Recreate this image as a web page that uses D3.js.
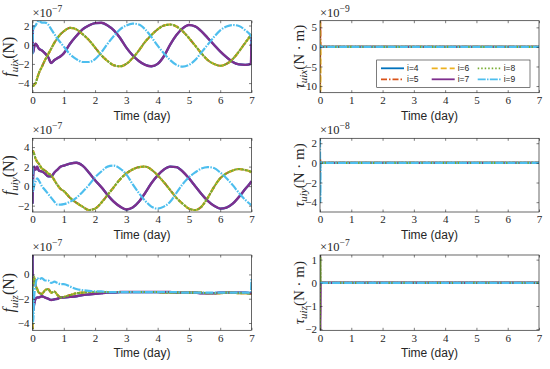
<!DOCTYPE html>
<html>
<head>
<meta charset="utf-8">
<script src="https://cdn.jsdelivr.net/npm/d3@7"></script>
<style>
body { margin: 0; background: #fff; }
</style>
</head>
<body>
<div id="chart"></div>
<script>
// time samples (day) used for the force panels
const tForce = [0, 0.02, 0.05, 0.1, 0.15, 0.2, 0.3, 0.4, 0.5, 0.6, 0.7, 0.8, 0.9, 1.0,
  1.2, 1.4, 1.6, 1.8, 2.0, 2.2, 2.4, 2.6, 2.8, 3.0, 3.2, 3.4, 3.6, 3.8, 4.0, 4.2, 4.4, 4.6, 4.8, 5.0,
  5.2, 5.4, 5.6, 5.8, 6.0, 6.2, 6.4, 6.6, 6.8, 6.98, 7.0]
// time samples (day) for the torque panels
const tTorque = [0, 0.01, 0.02, 0.05, 1, 2, 3, 4, 5, 6, 7]

const timeTicks = [0, 1, 2, 3, 4, 5, 6, 7]
const seriesIds = [4, 5, 6, 7, 8, 9]
const legendLabels = ["i=4", "i=5", "i=6", "i=7", "i=8", "i=9"]

// f_uix  (x 1e-7 N)
const fuixPurple = [2.0, -0.8, -0.3, 0.1, -0.1, -0.4, -0.6, -0.9, -1.3, -1.9, -1.6, -1.4, -1.2, -0.9,
  0.1, 0.9, 1.6, 2.0, 2.25, 2.28, 2.0, 1.5, 0.7, -0.3, -1.1, -1.7, -2.1, -2.25, -2.0, -1.2, 0.0, 1.0, 1.7, 2.05,
  1.9, 1.4, 0.7, 0.0, -0.7, -1.3, -1.8, -2.05, -2.1, -2.0, 0.8]
const fuixGreen = [-4.2, -4.3, -4.2, -4.0, -3.5, -3.0, -2.3, -1.6, -1.0, -0.4, 0.2, 0.7, 1.1, 1.4,
  1.75, 1.6, 1.1, 0.5, -0.3, -1.1, -1.7, -2.15, -2.25, -2.0, -1.4, -0.6, 0.3, 1.0, 1.6, 2.0, 2.1, 1.9, 1.4, 0.7,
  -0.1, -0.9, -1.6, -2.0, -2.2, -2.0, -1.5, -0.7, 0.2, 1.0, 1.1]
const fuixCyan = [-1.0, 1.5, 1.8, 2.0, 2.3, 2.5, 2.3, 2.3, 2.1, 1.6, 1.1, 0.6, 0.2, -0.2,
  -1.0, -1.5, -1.8, -1.8, -1.5, -0.8, 0.1, 0.9, 1.6, 2.0, 2.2, 2.1, 1.6, 0.8, -0.1, -0.9, -1.6, -2.1, -2.28, -2.1,
  -1.6, -0.8, 0.0, 0.8, 1.5, 1.9, 2.05, 1.95, 1.5, 0.9, 0.1]

// f_uiy  (x 1e-7 N)
const fuiyPurple = [-1.8, 1.0, 2.0, 1.7, 2.0, 1.6, 1.5, 1.3, 1.0, 1.0, 1.4, 1.7, 2.0, 2.1,
  2.3, 2.4, 2.1, 1.4, 0.6, -0.1, -0.9, -1.6, -2.1, -2.4, -2.2, -1.6, -0.7, 0.3, 1.1, 1.7, 2.0, 1.95, 1.5, 0.8,
  0.0, -0.8, -1.5, -2.0, -2.3, -2.2, -1.8, -1.1, -0.3, 0.4, 0.5]
const fuiyGreen = [3.4, 3.6, 3.3, 2.8, 2.5, 2.3, 1.8, 1.6, 1.3, 1.1, 0.6, 0.1, -0.3, -0.5,
  -1.2, -1.7, -2.1, -2.45, -2.3, -1.7, -0.9, -0.1, 0.7, 1.3, 1.7, 1.95, 2.0, 1.7, 1.1, 0.4, -0.4, -1.2, -1.8, -2.3,
  -2.45, -2.1, -1.2, -0.1, 0.8, 1.3, 1.6, 1.75, 1.65, 1.45, 1.4]
const fuiyCyan = [2.0, -0.5, 0.0, 0.5, 0.8, 0.6, 0.0, -0.4, -0.8, -1.2, -1.6, -1.9, -1.9, -1.85,
  -1.6, -1.2, -0.6, 0.1, 0.9, 1.5, 2.0, 2.1, 1.8, 1.2, 0.2, -0.7, -1.5, -2.1, -2.3, -2.1, -1.6, -0.7, 0.2, 0.9,
  1.4, 1.8, 1.95, 1.85, 1.4, 0.8, 0.1, -0.7, -1.4, -1.9, -1.95]

// f_uiz  (x 1e-7 N)
const fuizPurple = [1.6, -3.0, -2.5, -2.0, -1.9, -1.9, -1.8, -1.9, -2.0, -2.1, -2.05, -2.0, -1.9, -1.9,
  -1.85, -1.8, -1.7, -1.65, -1.6, -1.55, -1.5, -1.5, -1.45, -1.45, -1.45, -1.45, -1.45, -1.45, -1.45, -1.45, -1.45, -1.5, -1.5, -1.5,
  -1.5, -1.55, -1.55, -1.55, -1.5, -1.5, -1.5, -1.5, -1.5, -1.55, -1.55]
const fuizGreen = [-4.5, -0.5, -0.2, -0.9, -1.2, -1.5, -1.6, -1.3, -1.2, -1.5, -1.4, -1.7, -1.9, -1.85,
  -1.7, -1.55, -1.5, -1.45, -1.45, -1.45, -1.45, -1.45, -1.45, -1.45, -1.45, -1.45, -1.45, -1.45, -1.45, -1.5, -1.5, -1.5, -1.5, -1.5,
  -1.5, -1.5, -1.55, -1.55, -1.55, -1.5, -1.5, -1.55, -1.55, -1.6, -1.6]
const fuizCyan = [-1.0, -4.0, -2.0, -0.8, -0.3, -0.4, -0.3, -0.5, -0.5, -0.7, -0.6, -0.7, -0.8, -0.8,
  -1.0, -1.2, -1.3, -1.35, -1.4, -1.4, -1.45, -1.45, -1.45, -1.45, -1.45, -1.45, -1.45, -1.45, -1.45, -1.45, -1.45, -1.45, -1.5, -1.5,
  -1.5, -1.5, -1.5, -1.5, -1.5, -1.5, -1.5, -1.5, -1.5, -1.5, -0.3]

// torques: spikes at t = 0, then flat
const tuixValues = {
  4: [0, 0, 0, 0, 0, 0, 0, 0, 0, 0, 0],
  5: [-11.6, 6.6, -0.5, 0, 0, 0, 0, 0, 0, 0, 0],
  6: [6.6, -11.6, 0.3, 0, 0, 0, 0, 0, 0, 0, 0],
  7: [0, 0.2, 0, 0, 0, 0, 0, 0, 0, 0, 0],
  8: [0, 0, 0, 0, 0, 0, 0, 0, 0, 0, 0],
  9: [-0.6, 0.4, 0, 0, 0, 0, 0, 0, 0, 0, 0]
}
const tuiyValues = {
  4: [0, 0, 0, 0, 0, 0, 0, 0, 0, 0, 0],
  5: [-1.0, 0.3, 0, 0, 0, 0, 0, 0, 0, 0, 0],
  6: [0, 0, 0, 0, 0, 0, 0, 0, 0, 0, 0],
  7: [0, 0, 0, 0, 0, 0, 0, 0, 0, 0, 0],
  8: [0, 0, 0, 0, 0, 0, 0, 0, 0, 0, 0],
  9: [2.4, -4.0, 0.1, 0, 0, 0, 0, 0, 0, 0, 0]
}
const tuizValues = {
  4: [0, 0, 0, 0, 0, 0, 0, 0, 0, 0, 0],
  5: [0, 0, 0, 0, 0, 0, 0, 0, 0, 0, 0],
  6: [0, 0, 0, 0, 0, 0, 0, 0, 0, 0, 0],
  7: [1.2, -2.05, 0, 0, 0, 0, 0, 0, 0, 0, 0],
  8: [-2.0, 1.15, 0, 0, 0, 0, 0, 0, 0, 0, 0],
  9: [0, 0, 0, 0, 0, 0, 0, 0, 0, 0, 0]
}

const seriesStyle = {
  4: {color: "#0072BD", dash: null, width: 2.2},
  5: {color: "#D95319", dash: "6,2,1.5,2", width: 2.1},
  6: {color: "#EDB120", dash: "6,3", width: 2.1},
  7: {color: "#7E2F8E", dash: null, width: 2.4},
  8: {color: "#77AC30", dash: "2.8,0.9", width: 2.1},
  9: {color: "#4DBEEE", dash: "8,1.3,1.5,1.3", width: 2.2}
}

const panels = [
  {left: 32.5, top: 20.7, width: 219, height: 72, yDomain: [-5, 2.5], yTicks: [-4, -2, 0, 2], exp: "−7",
   sym: "f", sub: "uix", unit: "(N)", times: tForce,
   values: {4: fuixPurple, 5: fuixGreen, 6: fuixGreen, 7: fuixPurple, 8: fuixGreen, 9: fuixCyan}},
  {left: 320, top: 20.7, width: 219, height: 72, yDomain: [-11.7, 6.7], yTicks: [-10, -5, 0, 5], exp: "−9",
   sym: "τ", sub: "uix", unit: "(N · m)", times: tTorque, values: tuixValues, legend: true},
  {left: 32.5, top: 138.3, width: 219, height: 73.7, yDomain: [-2.65, 4.9], yTicks: [-2, 0, 2, 4], exp: "−7",
   sym: "f", sub: "uiy", unit: "(N)", times: tForce,
   values: {4: fuiyPurple, 5: fuiyGreen, 6: fuiyGreen, 7: fuiyPurple, 8: fuiyGreen, 9: fuiyCyan}},
  {left: 320, top: 138.3, width: 219, height: 73.7, yDomain: [-5, 2.5], yTicks: [-4, -2, 0, 2], exp: "−8",
   sym: "τ", sub: "uiy", unit: "(N · m)", times: tTorque, values: tuiyValues},
  {left: 32.5, top: 255, width: 219, height: 75.3, yDomain: [-4.6, 1.6], yTicks: [-4, -2, 0], exp: "−7",
   sym: "f", sub: "uiz", unit: "(N)", times: tForce,
   values: {4: fuizPurple, 5: fuizGreen, 6: fuizGreen, 7: fuizPurple, 8: fuizGreen, 9: fuizCyan}},
  {left: 320, top: 255, width: 219, height: 75.3, yDomain: [-2.05, 1.2], yTicks: [-2, -1, 0, 1], exp: "−7",
   sym: "τ", sub: "uiz", unit: "(N · m)", times: tTorque, values: tuizValues}
]

const svg = d3.select("#chart").append("svg")
    .attr("width", 550)
    .attr("height", 369)
    .style("font-family", "'Liberation Serif', 'DejaVu Serif', serif");

const axisColor = "#262626";
const fmt = d3.format("d");

panels.forEach((p, idx) => {
    const x = d3.scaleLinear().domain([0, 7]).range([p.left, p.left + p.width]);
    const y = d3.scaleLinear().domain(p.yDomain).range([p.top + p.height, p.top]);
    const g = svg.append("g");

    g.append("clipPath").attr("id", "clip" + idx)
        .append("rect")
        .attr("x", p.left).attr("y", p.top)
        .attr("width", p.width).attr("height", p.height);

    const line = d3.line()
        .x(d => x(d[0]))
        .y(d => y(d[1]))
        .curve(d3.curveMonotoneX);

    const plot = g.append("g").attr("clip-path", `url(#clip${idx})`);
    for (const i of seriesIds) {
        const st = seriesStyle[i];
        plot.append("path")
            .datum(p.times.map((t, k) => [t, p.values[i][k]]))
            .attr("d", line)
            .attr("fill", "none")
            .attr("stroke", st.color)
            .attr("stroke-width", st.width)
            .attr("stroke-dasharray", st.dash);
    }

    // axes, ticks pointing inward like matlab
    const styleAxis = sel => {
        sel.attr("font-family", null).attr("font-size", 11);
        sel.select(".domain").remove();
        sel.selectAll(".tick line").attr("stroke", axisColor).attr("stroke-width", 0.6);
        sel.selectAll(".tick text").attr("fill", axisColor);
    };
    g.append("g").attr("transform", `translate(0,${p.top + p.height})`)
        .call(d3.axisBottom(x).tickValues(timeTicks).tickFormat(fmt).tickSize(-2.5).tickPadding(3.5))
        .call(styleAxis);
    g.append("g").attr("transform", `translate(0,${p.top})`)
        .call(d3.axisTop(x).tickValues(timeTicks).tickFormat("").tickSize(-2.5))
        .call(styleAxis);
    g.append("g").attr("transform", `translate(${p.left},0)`)
        .call(d3.axisLeft(y).tickValues(p.yTicks).tickFormat(fmt).tickSize(-2.5).tickPadding(3))
        .call(styleAxis);
    g.append("g").attr("transform", `translate(${p.left + p.width},0)`)
        .call(d3.axisRight(y).tickValues(p.yTicks).tickFormat("").tickSize(-2.5))
        .call(styleAxis);

    g.append("rect")
        .attr("x", p.left).attr("y", p.top)
        .attr("width", p.width).attr("height", p.height)
        .attr("fill", "none")
        .attr("stroke", axisColor)
        .attr("stroke-width", 0.7);

    // exponent above the y axis
    const ex = g.append("text")
        .attr("x", p.left)
        .attr("y", p.top - 4)
        .attr("font-size", 12.5)
        .attr("fill", axisColor)
        .text("×10");
    ex.append("tspan").attr("dy", -5).attr("font-size", 9.5).text(p.exp);

    // x label
    g.append("text")
        .attr("x", p.left + p.width / 2)
        .attr("y", p.top + p.height + 27)
        .attr("text-anchor", "middle")
        .attr("font-family", "'Liberation Sans', Arial, sans-serif")
        .attr("font-size", 12)
        .attr("fill", axisColor)
        .text("Time (day)");

    // y label
    const yl = g.append("text")
        .attr("transform", `translate(${p.sym === "f" ? p.left - 18.5 : p.left - 16.5},${p.top + p.height / 2}) rotate(-90)`)
        .attr("text-anchor", "middle")
        .attr("font-size", p.sym === "f" ? 16 : 15)
        .attr("fill", axisColor);
    yl.append("tspan").attr("font-style", "italic").text(p.sym);
    yl.append("tspan").attr("font-style", "italic").attr("font-size", 11).attr("dy", 3.5).text(p.sub);
    yl.append("tspan").attr("dy", -3.5).text(p.unit);

    if (p.legend) {
        const lg = g.append("g");
        lg.append("rect")
            .attr("x", 376.7).attr("y", 60)
            .attr("width", 153.3).attr("height", 27.3)
            .attr("fill", "#fff")
            .attr("stroke", axisColor)
            .attr("stroke-width", 0.6);
        const colX = [381, 431.7, 477.7];
        const rowY = [68.3, 79.3];
        seriesIds.forEach((i, k) => {
            const cx = colX[Math.floor(k / 2)], cy = rowY[k % 2];
            lg.append("line")
                .attr("x1", cx).attr("x2", cx + 23)
                .attr("y1", cy).attr("y2", cy)
                .attr("stroke", seriesStyle[i].color)
                .attr("stroke-width", 1.8)
                .attr("stroke-dasharray", i === 8 ? "1.5,2" : seriesStyle[i].dash);
            lg.append("text")
                .attr("x", cx + 26).attr("y", cy + 3)
                .attr("font-family", "'Liberation Sans', Arial, sans-serif")
                .attr("font-size", 8.5)
                .attr("fill", axisColor)
                .text(legendLabels[k]);
        });
    }
});
</script>
</body>
</html>
